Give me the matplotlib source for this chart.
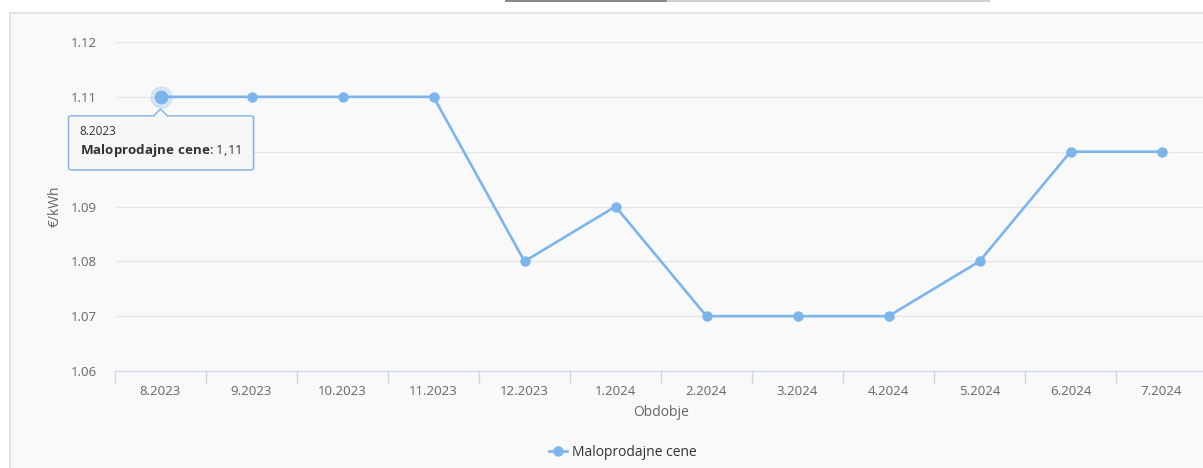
import matplotlib.pyplot as plt
from matplotlib.patches import Rectangle, FancyBboxPatch, Polygon
from matplotlib.lines import Line2D

# podatki
obdobja = ['8.2023', '9.2023', '10.2023', '11.2023', '12.2023', '1.2024',
           '2.2024', '3.2024', '4.2024', '5.2024', '6.2024', '7.2024']
cene = [1.11, 1.11, 1.11, 1.11, 1.08, 1.09, 1.07, 1.07, 1.07, 1.08, 1.10, 1.10]
y_ticki = [1.06, 1.07, 1.08, 1.09, 1.10, 1.11, 1.12]
serija = 'Maloprodajne cene'

W, H = 1203, 468
modra = '#7cb5ec'
plt.rcParams['font.family'] = ['Open Sans', 'DejaVu Sans']
plt.rcParams['mathtext.fontset'] = 'custom'
plt.rcParams['mathtext.bf'] = 'Open Sans:bold'
plt.rcParams['mathtext.rm'] = 'Open Sans'

fig = plt.figure(figsize=(W / 100, H / 100), dpi=100)
fig.patch.set_facecolor('white')

# okvir panela
fig.patches.append(Rectangle((10 / W, -0.1), 1.1, 1 - 13 / H + 0.1, transform=fig.transFigure,
                             facecolor='#f9f9f9', edgecolor='#e3e3e3', lw=1.5, zorder=-2))
# trak na vrhu
fig.patches.append(Rectangle((505 / W, 1 - 2 / H), 162 / W, 2 / H, transform=fig.transFigure,
                             facecolor='#8a8a8a', edgecolor='none', zorder=-1))
fig.patches.append(Rectangle((667 / W, 1 - 2 / H), 323 / W, 2 / H, transform=fig.transFigure,
                             facecolor='#d0d0d0', edgecolor='none', zorder=-1))

ax = fig.add_axes([115 / W, 1 - 371 / H, 1092 / W, 329 / H])
ax.set_facecolor('none')
x = list(range(len(obdobja)))
ax.plot(x, cene, color=modra, lw=1.9, marker='o', ms=6.5, zorder=3, clip_on=False)

ax.set_xlim(-0.5, len(obdobja) - 0.5)
ax.set_ylim(1.06, 1.12)
ax.set_yticks(y_ticki)
# oznaka 1.10 je skrita pod tooltipom
ax.set_yticklabels(['' if abs(v - 1.10) < 1e-9 else '%.2f' % v for v in y_ticki])
ax.grid(axis='y', color='#e6e6e6', lw=1)
ax.set_axisbelow(True)

ax.set_xticks([i - 0.5 for i in range(len(obdobja) + 1)])
ax.set_xticklabels([])
ax.set_xticks(x, minor=True)
ax.set_xticklabels(obdobja, minor=True)
ax.tick_params(axis='x', which='major', length=9, color='#ccd6eb', width=1)
ax.tick_params(axis='x', which='minor', length=0, pad=10, labelsize=9.5, labelcolor='#666666')
ax.tick_params(axis='y', length=0, pad=13, labelsize=9.5, labelcolor='#666666')
for s in ['top', 'right', 'left']:
    ax.spines[s].set_visible(False)
ax.spines['bottom'].set_color('#ccd6eb')

ax.set_xlabel('Obdobje', fontsize=10, color='#666666', labelpad=5)
ax.set_ylabel('€/kWh', fontsize=10, color='#666666', labelpad=6)

# legenda
h = Line2D([], [], color=modra, lw=1.9, marker='o', ms=6.5)
fig.legend([h], [serija], loc='center', bbox_to_anchor=(623 / W, 1 - 452 / H), frameon=False,
           fontsize=10, labelcolor='#333333', handlelength=1.3, handletextpad=0.4)

# hover na prvi tocki
ax.plot(x[:1], cene[:1], marker='o', ms=15, color=modra, alpha=0.25, lw=0, zorder=4, clip_on=False)
ax.plot(x[:1], cene[:1], marker='o', ms=9, color=modra, lw=0, zorder=5, clip_on=False)

# tooltip
fig.canvas.draw()
px, py = ax.transData.transform((x[0], cene[0]))
bx0, bx1 = px - 92, px + 93
by0, by1 = py - 73, py - 19
senca = FancyBboxPatch(((bx0 + 1.5) / W, (by0 - 1.5) / H), (bx1 - bx0) / W, (by1 - by0) / H,
                       boxstyle='round,pad=0,rounding_size=0.003', transform=fig.transFigure,
                       facecolor='#000000', alpha=0.06, edgecolor='none', zorder=7)
fig.patches.append(senca)
box = FancyBboxPatch((bx0 / W, by0 / H), (bx1 - bx0) / W, (by1 - by0) / H,
                     boxstyle='round,pad=0,rounding_size=0.003', transform=fig.transFigure,
                     facecolor='#f7f7f7', edgecolor=modra, lw=1, zorder=8)
fig.patches.append(box)
pu = Polygon([((px - 7) / W, (by1 - 0.3) / H), (px / W, (by1 + 7) / H), ((px + 7) / W, (by1 - 0.3) / H)],
             closed=False, transform=fig.transFigure, facecolor='#f7f7f7', edgecolor=modra,
             lw=1, zorder=9)
fig.patches.append(pu)
fig.patches.append(Rectangle(((px - 6) / W, (by1 - 1.5) / H), 12 / W, 1.8 / H, transform=fig.transFigure,
                             facecolor='#f7f7f7', edgecolor='none', zorder=9))

fig.text((bx0 + 11) / W, (py - 35) / H, obdobja[0], fontsize=8.5, color='#333333',
         va='center', ha='left', zorder=10)
vrednost = ('%.2f' % cene[0]).replace('.', ',')
fig.text((bx0 + 11) / W, (py - 54) / H,
         r'$\mathbf{Maloprodajne\ cene}$: ' + vrednost, fontsize=9.6, color='#333333',
         va='center', ha='left', zorder=10)

fig.savefig('out.png', dpi=100)
